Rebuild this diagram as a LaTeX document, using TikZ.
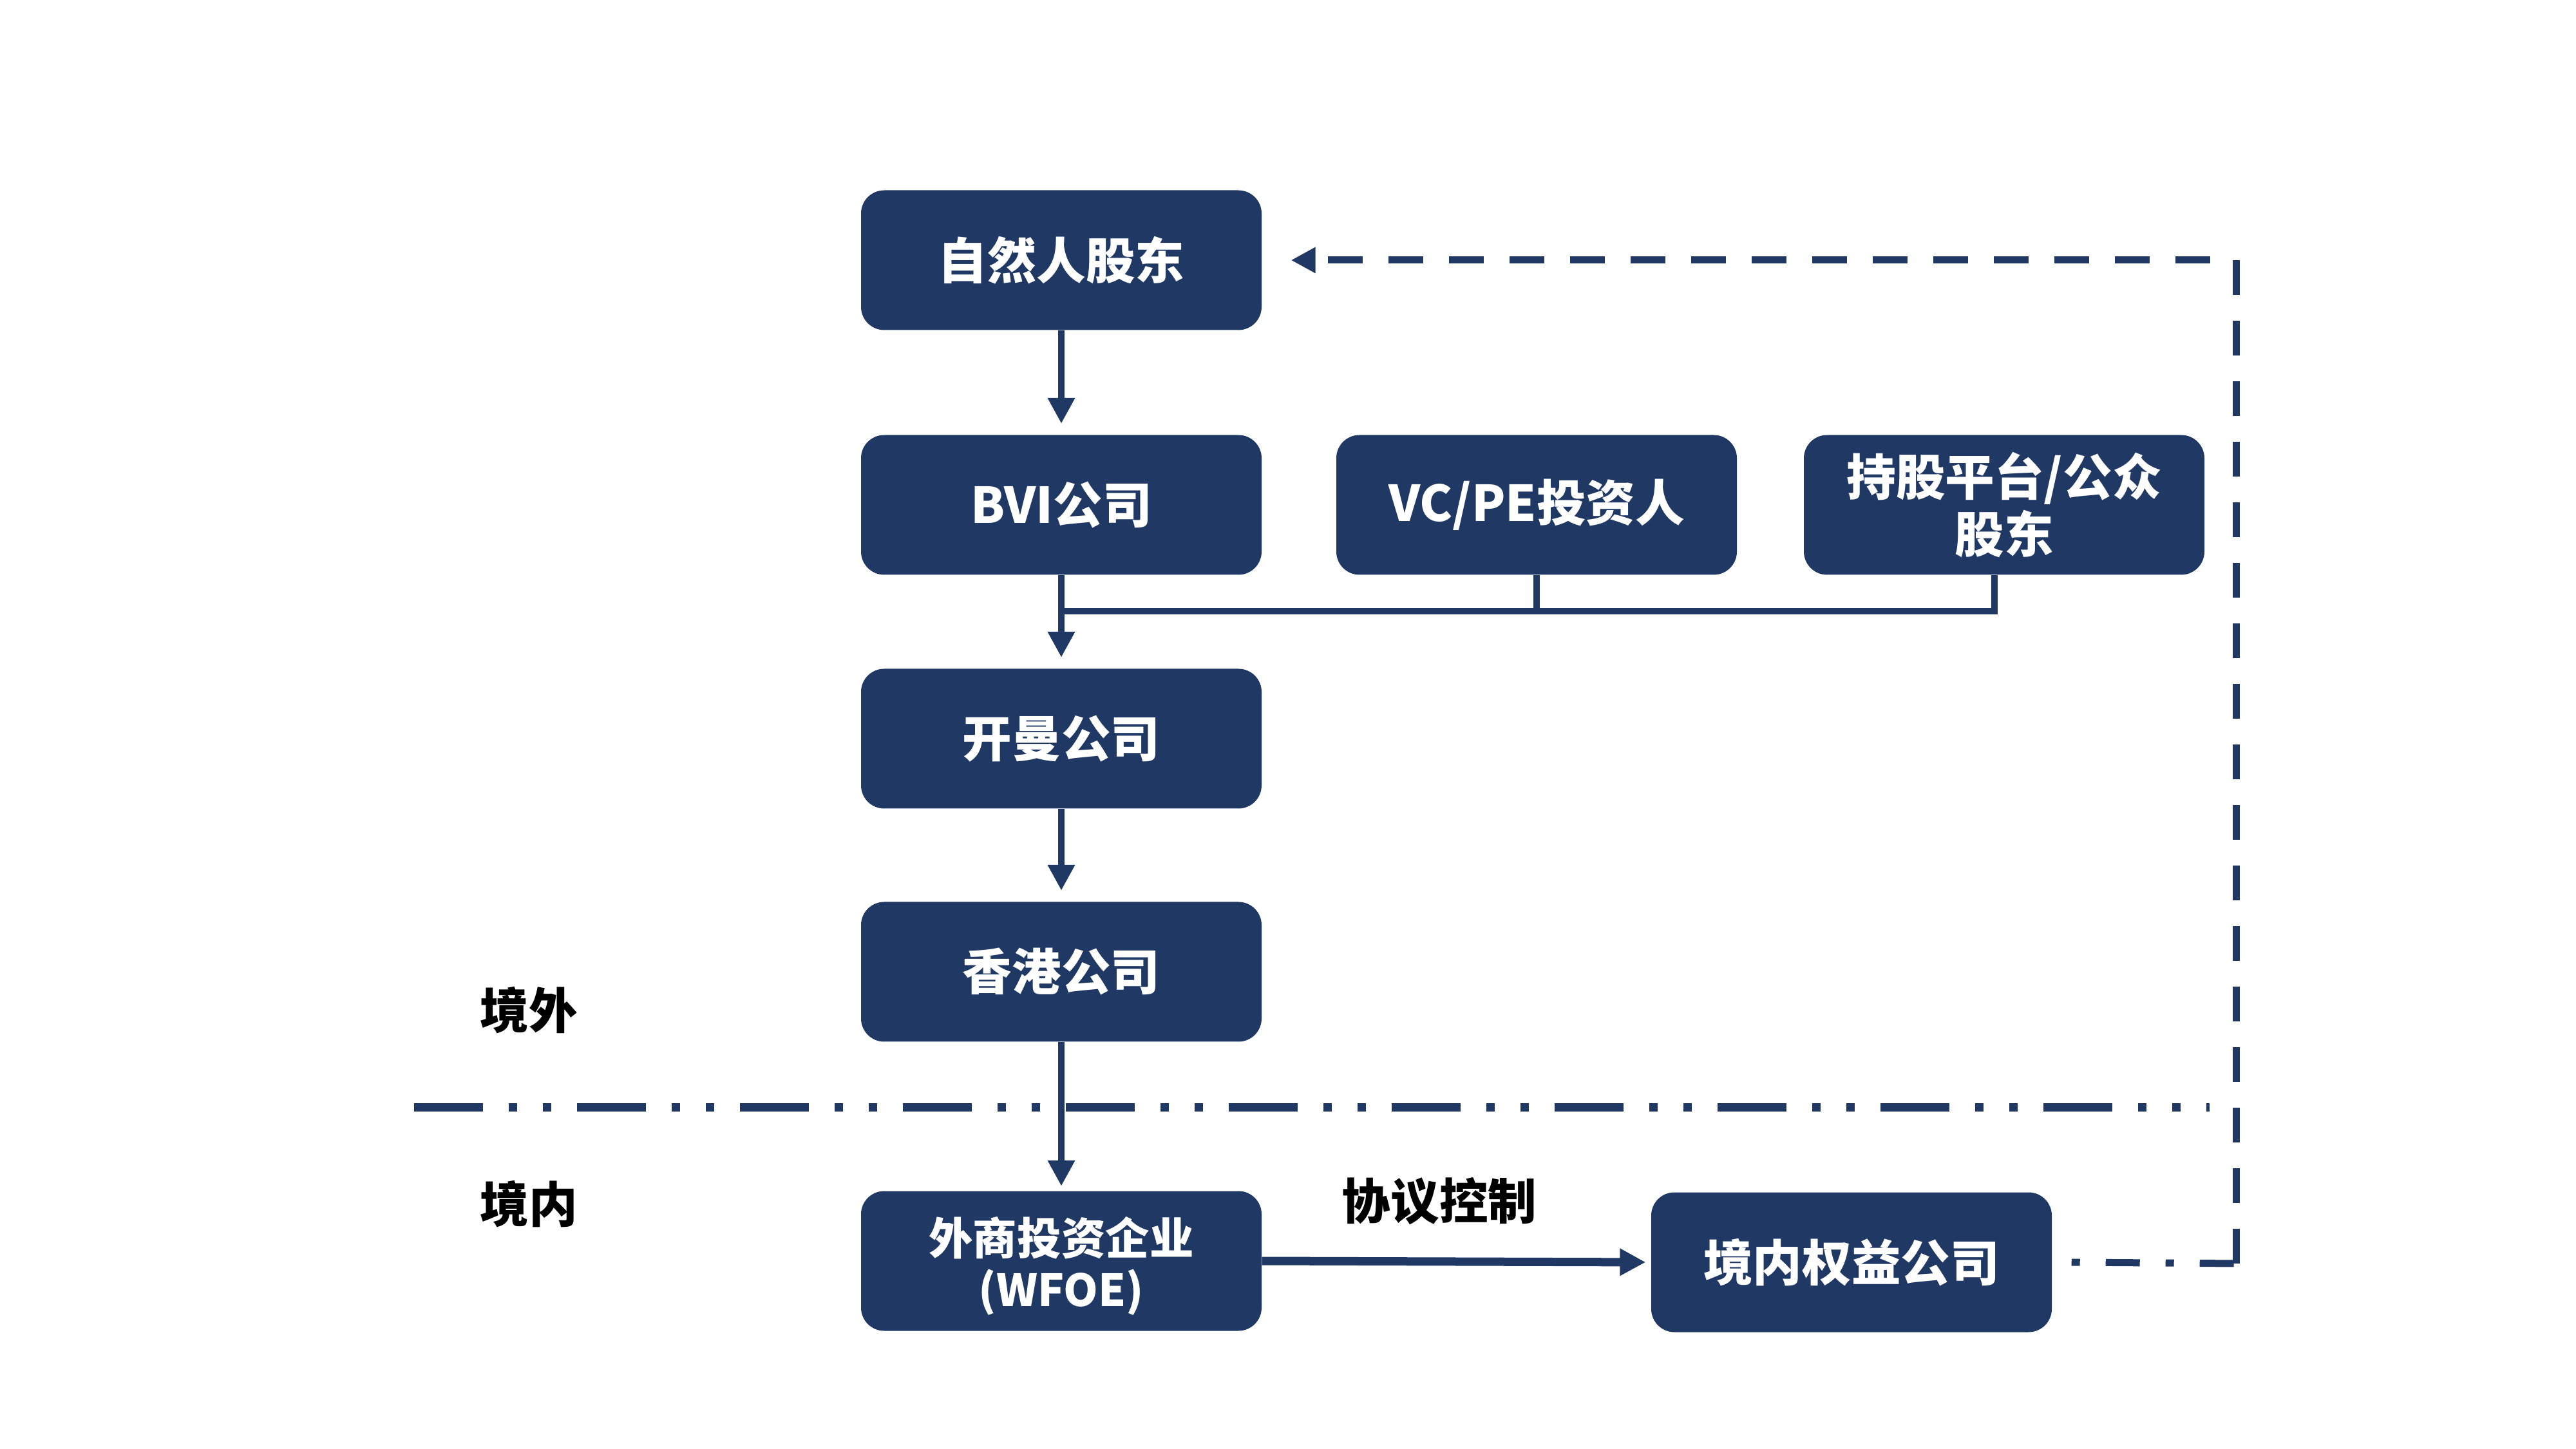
\documentclass[tikz,border=0pt]{standalone}
\usepackage{fontspec}
\setmainfont{Noto Sans CJK SC}
\usetikzlibrary{arrows.meta}
\definecolor{navy}{RGB}{32,56,100}

\begin{document}
\begin{tikzpicture}[
        box/.style = {fill = navy, rounded corners = 0.36cm, minimum width = 6.22cm, minimum height = 2.17cm, inner sep = 0pt, text = white, align = center, font = \fontsize{21.8}{25.5}\selectfont\bfseries},
        side/.style = {text = black, font = \fontsize{21.5}{25.5}\selectfont\bfseries},
        link/.style = {draw = navy, line width = 0.1cm},
        arr/.style = {link, -{Triangle[width = 0.4cm, length = 0.4cm]}, shorten > = 0.17cm},
        dashlink/.style = {draw = navy, line width = 0.11cm, dash pattern = on 0.54cm off 0.40cm},
        dotlink/.style = {draw = navy, line width = 0.11cm, dash pattern = on 0.13cm off 0.40cm on 0.53cm off 0.40cm},
        border/.style = {draw = navy, line width = 0.13cm, dash pattern = on 1.07cm off 0.40cm on 0.13cm off 0.40cm on 0.13cm off 0.40cm}
    ]
        \fill [white] (0,0) rectangle (40,-22.5);
        \useasboundingbox (0,0) rectangle (40,-22.5);

        \node (nat) at (16.48,-4.04) [box] {自然人股东};
        \node (bvi) at (16.48,-7.84) [box] {BVI公司};
        \node (vcpe) at (23.86,-7.84) [box] {VC/PE投资人};
        \node (esop) at (31.12,-7.84) [box] {持股平台/公众\\股东};
        \node (cayman) at (16.48,-11.47) [box] {开曼公司};
        \node (hk) at (16.48,-15.09) [box] {香港公司};
        \node (wfoe) at (16.48,-19.58) [box, font = \fontsize{19.5}{22.5}\selectfont\bfseries] {\rule{0pt}{0.75cm}外商投资企业\\(WFOE)};
        \node (dom) at (28.75,-19.60) [box] {境内权益公司};

        \node (out) at (8.21,-15.69) [side] {境外};
        \node (in) at (8.21,-18.70) [side] {境内};
        \node (vie) at (22.35,-18.65) [side] {协议控制};

        \coordinate (divl) at (6.43,-17.19);
        \coordinate (divr) at (34.31,-17.19);
        \draw [border] (divl) -- (divr);

        \draw [arr] (nat) -- (bvi);
        \draw [arr] (bvi) -- (cayman);
        \draw [arr] (cayman) -- (hk);
        \draw [arr, shorten > = 0.07cm] (hk) -- (wfoe);

        \coordinate (merge) at (16.53,-9.49);
        \draw [link] (vcpe.south) -- (vcpe.south |- merge);
        \draw [link] ([xshift = -0.15cm]esop.south) |- (merge);

        \draw [arr, line width = 0.13cm, shorten > = 0.08cm] (wfoe.east) -- (dom.west);

        \coordinate (turn) at (34.72,-19.62);
        \draw [dotlink] ([xshift = 0.3cm]dom.east) -- (turn);
        \draw [dashlink, -{Triangle[width = 0.38cm, length = 0.38cm]}, shorten > = 0.45cm] (turn) |- (nat.east);

    \end{tikzpicture}
\end{document}
